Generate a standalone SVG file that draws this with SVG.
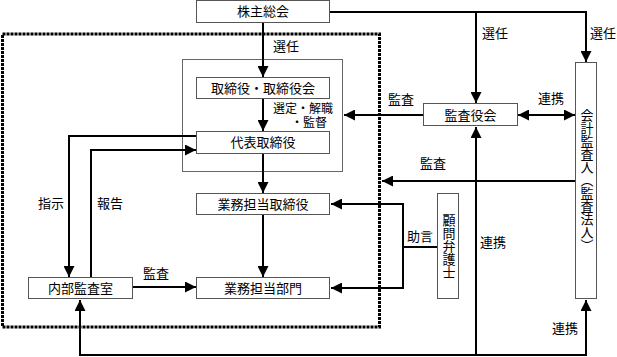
<svg xmlns="http://www.w3.org/2000/svg" width="617" height="357" viewBox="0 0 617 357">
<style>
text{font-family:"Liberation Serif","Noto Sans CJK JP",serif;font-size:13px;fill:#000}
.box{fill:#fff;stroke:#555;stroke-width:1}
.grp{fill:none;stroke:#666;stroke-width:1}
.c{text-anchor:middle}
.sm{font-size:12px}
.ln{fill:none;stroke:#000;stroke-width:2}
.arr{marker-end:url(#ah)}
.dot{fill:none;stroke:#000;stroke-width:3;stroke-dasharray:3 1}
.vt{writing-mode:vertical-rl;text-anchor:middle}
</style>
<defs>
<marker id="ah" markerUnits="userSpaceOnUse" markerWidth="11" markerHeight="11" viewBox="0 0 10 10" refX="10" refY="5" orient="auto-start-reverse">
<path d="M0,0 L10,5 L0,10 z" fill="#000"/>
</marker>
</defs>
<rect class="dot" x="2.5" y="34" width="377" height="293"/>
<rect class="grp" x="182.5" y="59.5" width="160" height="112"/>
<g id="connectors">
<path class="ln arr" d="M263,23 V77"/>
<path class="ln arr" d="M263,99 V131"/>
<path class="ln arr" d="M263,154 V193"/>
<path class="ln arr" d="M263,215 V277"/>
<path class="ln arr" d="M196,136 H69 V277"/>
<path class="ln arr" d="M91,277 V150 H196"/>
<path class="ln arr" d="M133,287 H196"/>
<path class="ln arr" d="M330,12 H586 V62"/>
<path class="ln arr" d="M476,12 V103"/>
<path class="ln arr" d="M423,115 H344"/>
<path class="ln arr" d="M518,115 H575" marker-start="url(#ah)"/>
<path class="ln arr" d="M575,181 H382"/>
<path class="ln arr" d="M80,300 V355 H586 V300" marker-start="url(#ah)"/>
<path class="ln arr" d="M476,355 V127"/>
<path class="ln" d="M437,247 H403"/>
<path class="ln arr" d="M403,247 V204 H331"/>
<path class="ln arr" d="M403,247 V288 H331"/>
<text x="273" y="51">選任</text>
<text class="sm" x="273" y="113">選定・解職</text>
<text class="sm" x="291" y="127">・監督</text>
<text x="388" y="104">監査</text>
<text x="482" y="38">選任</text>
<text x="590" y="38">選任</text>
<text x="538" y="103">連携</text>
<text x="420" y="168">監査</text>
<text x="38" y="208">指示</text>
<text x="97" y="208">報告</text>
<text x="143" y="278">監査</text>
<text x="407" y="241">助言</text>
<text x="480" y="247">連携</text>
<text x="552" y="333">連携</text>
</g>
<g id="kabunushi"><rect class="box" x="196.5" y="0.5" width="133" height="22"/><text class="c" x="263" y="16">株主総会</text></g>
<g id="torishimariyaku"><rect class="box" x="196.5" y="77.5" width="133" height="21"/><text class="c" x="263" y="93">取締役・取締役会</text></g>
<g id="daihyo"><rect class="box" x="196.5" y="131.5" width="133" height="22"/><text class="c" x="263" y="147">代表取締役</text></g>
<g id="gyomu-tori"><rect class="box" x="196.5" y="193.5" width="133" height="21"/><text class="c" x="263" y="209">業務担当取締役</text></g>
<g id="gyomu-bumon"><rect class="box" x="196.5" y="277.5" width="133" height="21"/><text class="c" x="263" y="293">業務担当部門</text></g>
<g id="naibu"><rect class="box" x="28.5" y="277.5" width="104" height="21"/><text class="c" x="80.5" y="293">内部監査室</text></g>
<g id="kansayakukai"><rect class="box" x="423.5" y="103.5" width="94" height="22"/><text class="c" x="470.5" y="120">監査役会</text></g>
<g id="kaikei"><rect class="box" x="575.5" y="62.5" width="21" height="236"/><text class="vt" x="586" y="180">会計監査人（監査法人）</text></g>
<g id="komon"><rect class="box" x="437.5" y="193.5" width="21" height="105"/><text class="vt" x="448" y="246">顧問弁護士</text></g>
</svg>
